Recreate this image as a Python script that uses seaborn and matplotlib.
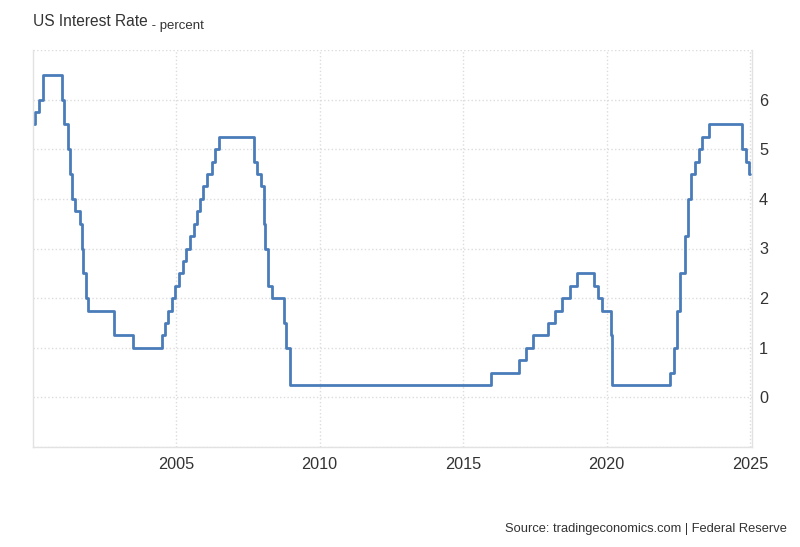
import matplotlib
matplotlib.use("Agg")
import matplotlib.pyplot as plt
import matplotlib.dates as mdates
import numpy as np
import pandas as pd
import seaborn as sns

# Fed funds target (upper bound), change dates and new rate
DATES = [
    "2000-01-01", "2000-02-02", "2000-03-21", "2000-05-16",
    "2001-01-03", "2001-01-31", "2001-03-20", "2001-04-18", "2001-05-15",
    "2001-06-27", "2001-08-21", "2001-09-17", "2001-10-02", "2001-11-06",
    "2001-12-11", "2002-11-06", "2003-06-25",
    "2004-06-30", "2004-08-10", "2004-09-21", "2004-11-10", "2004-12-14",
    "2005-02-02", "2005-03-22", "2005-05-03", "2005-06-30", "2005-08-09",
    "2005-09-20", "2005-11-01", "2005-12-13", "2006-01-31", "2006-03-28",
    "2006-05-10", "2006-06-29",
    "2007-09-18", "2007-10-31", "2007-12-11", "2008-01-22", "2008-01-30",
    "2008-03-18", "2008-04-30", "2008-10-08", "2008-10-29", "2008-12-16",
    "2015-12-16", "2016-12-14", "2017-03-15", "2017-06-14", "2017-12-13",
    "2018-03-21", "2018-06-13", "2018-09-26", "2018-12-19",
    "2019-07-31", "2019-09-18", "2019-10-30", "2020-03-03", "2020-03-15",
    "2022-03-16", "2022-05-04", "2022-06-15", "2022-07-27", "2022-09-21",
    "2022-11-02", "2022-12-14", "2023-02-01", "2023-03-22", "2023-05-03",
    "2023-07-26", "2024-09-18", "2024-11-07", "2024-12-18", "2024-12-25",
]
RATES = [
    5.5, 5.75, 6.0, 6.5,
    6.0, 5.5, 5.0, 4.5, 4.0,
    3.75, 3.5, 3.0, 2.5, 2.0,
    1.75, 1.25, 1.0,
    1.25, 1.5, 1.75, 2.0, 2.25,
    2.5, 2.75, 3.0, 3.25, 3.5,
    3.75, 4.0, 4.25, 4.5, 4.75,
    5.0, 5.25,
    4.75, 4.5, 4.25, 3.5, 3.0,
    2.25, 2.0, 1.5, 1.0, 0.25,
    0.5, 0.75, 1.0, 1.25, 1.5,
    1.75, 2.0, 2.25, 2.5,
    2.25, 2.0, 1.75, 1.25, 0.25,
    0.5, 1.0, 1.75, 2.5, 3.25,
    4.0, 4.5, 4.75, 5.0, 5.25,
    5.5, 5.0, 4.75, 4.5, 4.5,
]
Y_TICKS = [-1, 0, 1, 2, 3, 4, 5, 6, 7]
Y_LABELS = ["", "0", "1", "2", "3", "4", "5", "6", ""]

TITLE = "US Interest Rate"
SUBTITLE = " - percent"
SOURCE = "Source: tradingeconomics.com | Federal Reserve"

LINE_COLOR = "#4a7cb9"
GRID_COLOR = "#dcdcdc"
TEXT_COLOR = "#333333"

sns.set_style("white")
plt.rcParams["font.family"] = ["Liberation Sans", "DejaVu Sans"]

df = pd.DataFrame({"date": pd.to_datetime(DATES), "rate": RATES})

fig = plt.figure(figsize=(8, 5.47), dpi=100)
ax = fig.add_axes([33 / 800, 1 - 447 / 547, (752 - 33) / 800, (447 - 50) / 547])

sns.lineplot(data=df, x="date", y="rate", ax=ax, color=LINE_COLOR,
             linewidth=2.0, drawstyle="steps-post")

ax.set_xlim(pd.Timestamp("2000-01-05"), pd.Timestamp("2025-01-25"))
ax.set_ylim(-1, 7)
ax.set_yticks(Y_TICKS)
ax.set_yticklabels(Y_LABELS)
ax.xaxis.set_major_locator(mdates.YearLocator(5))
ax.xaxis.set_major_formatter(mdates.DateFormatter("%Y"))

ax.yaxis.tick_right()
ax.tick_params(axis="both", length=0, labelsize=11.7, labelcolor=TEXT_COLOR)
ax.tick_params(axis="y", pad=5)
ax.tick_params(axis="x", pad=7)
ax.set_xlabel("")
ax.set_ylabel("")

ax.grid(True, color=GRID_COLOR, linestyle=":", linewidth=1.0)
for side in ["left", "bottom", "right"]:
    ax.spines[side].set_color("#e2e2e2")
    ax.spines[side].set_linewidth(1.0)
ax.spines["top"].set_visible(False)

t = fig.text(33 / 800, 1 - 21 / 547, TITLE, fontsize=11.2, color=TEXT_COLOR,
             ha="left", va="center")
fig.canvas.draw()
bb = t.get_window_extent().transformed(fig.transFigure.inverted())
fig.text(bb.x1, bb.y0, SUBTITLE, fontsize=9.5, color=TEXT_COLOR,
         ha="left", va="baseline")

fig.text(787 / 800, 1 - 529 / 547, SOURCE, fontsize=9.3, color=TEXT_COLOR,
         ha="right", va="center")

fig.savefig("out.png", dpi=100, facecolor="white")
